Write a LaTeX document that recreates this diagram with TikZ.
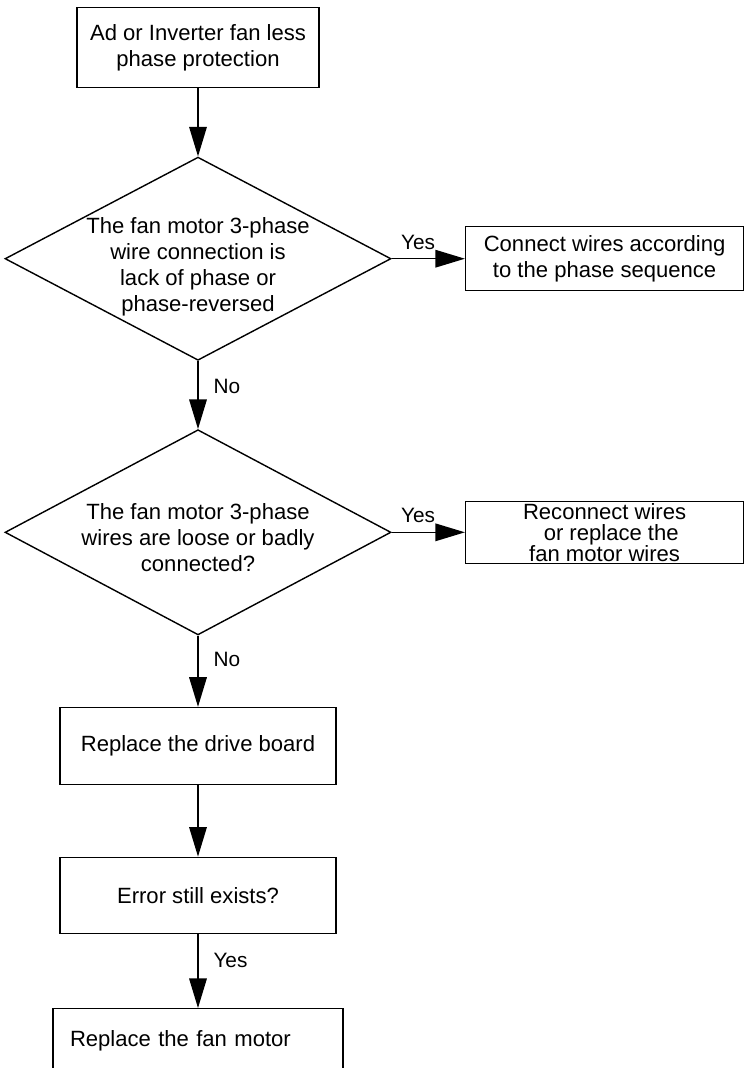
\documentclass[tikz,border=0pt]{standalone}
\usepackage{fontspec}
\setmainfont{Liberation Sans}
\usepackage{tikz}
\usetikzlibrary{shapes, arrows.meta, positioning}

\newcommand{\mainfnt}{\fontsize{15.7}{18.5}\selectfont}
\newcommand{\tightfnt}{\fontsize{15.7}{14.9}\selectfont}
\newcommand{\lblfnt}{\fontsize{14.8}{16}\selectfont}

\begin{document}
\begin{tikzpicture}[
  box/.style={rectangle, draw, line width=1pt, minimum width=6.9cm,
              minimum height=1.93cm, text centered, align=center, font=\mainfnt},
  decision/.style={diamond, draw, line width=1pt, minimum width=9.65cm,
                   minimum height=5.08cm, inner sep=0pt},
  ques/.style={align=center, font=\mainfnt, inner sep=0pt},
  arr/.style={-{Triangle[length=0.74cm, width=0.44cm]}, line width=1pt},
  lbl/.style={font=\lblfnt, inner sep=0pt},
]
\useasboundingbox (0,0) rectangle (18.6,-26.7);

\node[box, anchor=north, minimum width=6.05cm, minimum height=2cm] (start) at (4.95,-0.175)
  {Ad or Inverter fan less\\phase protection};
\node[decision, below=1.7cm of start] (chk1) {};
\node[ques, yshift=-0.2cm] (chk1txt) at (chk1)
  {The fan motor 3-phase\\wire connection is\\lack of phase or\\phase-reversed};
\node[decision, below=1.7cm of chk1, minimum height=5.13cm] (chk2) {};
\node[ques, yshift=-0.13cm] (chk2txt) at (chk2)
  {The fan motor 3-phase\\wires are loose or badly\\connected?};
\node[box, below=1.78cm of chk2] (drv) {Replace the drive board};
\node[box, below=1.78cm of drv, minimum height=1.9cm] (err) {Error still exists?};
\node[box, below=1.85cm of err, minimum height=1.6cm, text width=6.4cm,
      inner xsep=0.425cm, align=left] (fan) {Replace the fan motor};

\node[box, right=1.83cm of chk1, minimum width=6.95cm, minimum height=1.6cm] (conn)
  {Connect wires according\\to the phase sequence};
\node[box, right=1.83cm of chk2, minimum width=6.95cm, minimum height=1.55cm,
      inner ysep=0pt, font=\tightfnt] (recon)
  {Reconnect wires\\\hspace*{0.6em}or replace the\\fan motor wires};

\draw[arr] (start) -- (chk1);
\draw[arr] (chk1) -- node[lbl, pos=0.36, above=0.22cm] (yes1) {Yes} (conn);
\draw[arr] (chk1) -- node[lbl, pos=0.37, right=0.37cm] (no1) {No} (chk2);
\draw[arr] (chk2) -- node[lbl, pos=0.36, above=0.22cm] (yes2) {Yes} (recon);
\draw[arr] (chk2) -- node[lbl, pos=0.34, right=0.37cm] (no2) {No} (drv);
\draw[arr] (drv) -- (err);
\draw[arr] (err) -- node[lbl, pos=0.36, right=0.37cm] (yes3) {Yes} (fan);
\end{tikzpicture}
\end{document}
